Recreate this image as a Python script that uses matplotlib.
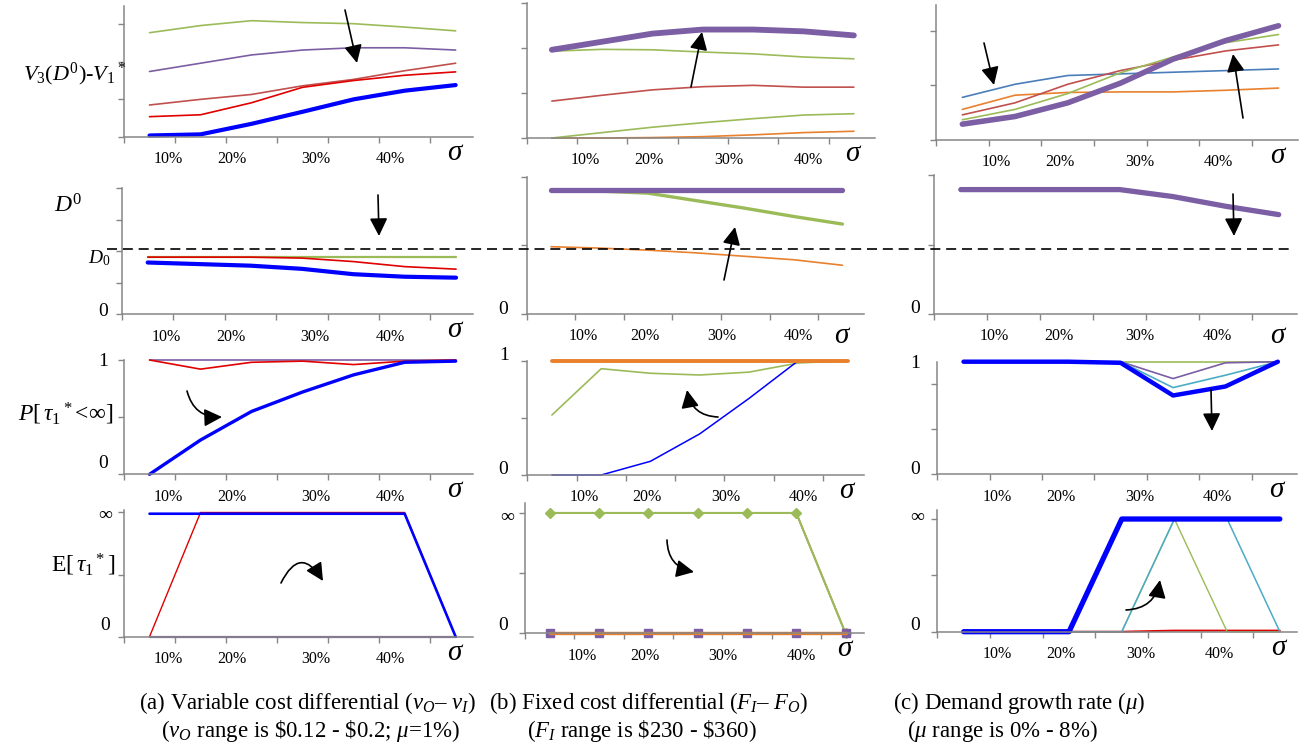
import numpy as np
import matplotlib.pyplot as plt
from matplotlib.lines import Line2D
from matplotlib.patches import FancyArrowPatch

plt.rcParams['font.family'] = 'Liberation Serif'
plt.rcParams['mathtext.fontset'] = 'custom'
plt.rcParams['mathtext.rm'] = 'Liberation Serif'
plt.rcParams['mathtext.it'] = 'Liberation Serif:italic'
plt.rcParams['mathtext.bf'] = 'Liberation Serif:bold'

# sigma categories (7 cases, drawn at category centres)
x = np.arange(7) + 0.5
sigma_labels = ['10%', '20%', '30%', '40%']

# (a) variable cost differential
a_gap_green = [2.77, 2.96, 3.09, 3.04, 3.01, 2.92, 2.82]
a_gap_purple = [1.74, 1.96, 2.18, 2.31, 2.37, 2.37, 2.31]
a_gap_brown = [0.85, 1.0, 1.13, 1.36, 1.53, 1.76, 1.96]
a_gap_red = [0.54, 0.59, 0.91, 1.32, 1.50, 1.64, 1.73]
a_gap_blue = [0.04, 0.07, 0.35, 0.67, 1.0, 1.23, 1.38]
a_d0_green = [1.81, 1.81, 1.81, 1.81, 1.81, 1.81, 1.81]
a_d0_red = [1.81, 1.81, 1.81, 1.78, 1.67, 1.51, 1.43]
a_d0_blue = [1.64, 1.59, 1.54, 1.44, 1.27, 1.19, 1.16]
a_p_purple = [1, 1, 1, 1, 1, 1, 1]
a_p_red = [1.0, 0.92, 0.98, 0.99, 0.96, 0.99, 1.0]
a_p_blue = [0.0, 0.30, 0.55, 0.72, 0.87, 0.98, 0.99]
a_e_purple = [0, 0, 0, 0, 0, 0, 0]
a_e_red = [0, 1, 1, 1, 1, 1, 0]
a_e_blue = [0.99, 0.99, 0.99, 0.99, 0.99, 0.99, 0]

# (b) fixed cost differential
b_gap_purple = [1.96, 2.14, 2.32, 2.41, 2.41, 2.37, 2.28]
b_gap_green = [1.93, 1.97, 1.96, 1.91, 1.87, 1.80, 1.76]
b_gap_brown = [0.82, 0.95, 1.07, 1.14, 1.17, 1.13, 1.13]
b_gap_lgreen = [0, 0.12, 0.24, 0.34, 0.43, 0.51, 0.54]
b_gap_orange = [0, 0, 0.01, 0.03, 0.07, 0.12, 0.15]
b_d0_purple = [1.80, 1.80, 1.80, 1.80, 1.80, 1.80, 1.80]
b_d0_green = [1.80, 1.79, 1.76, 1.65, 1.54, 1.42, 1.31]
b_d0_orange = [0.98, 0.96, 0.93, 0.89, 0.84, 0.79, 0.71]
b_p_orange = [1, 1, 1, 1, 1, 1, 1]
b_p_green = [0.525, 0.93, 0.89, 0.875, 0.90, 0.98, 1.0]
b_p_blue = [0, 0, 0.12, 0.36, 0.67, 1.0, 1.0]
b_e_red = [1, 1, 1, 1, 1, 1, 0]
b_e_green = [1, 1, 1, 1, 1, 1, 0]
b_e_purple = [0, 0, 0, 0, 0, 0, 0]
b_e_orange = [0, 0, 0, 0, 0, 0, 0]

# (c) demand growth rate
c_gap_blue = [0.78, 1.02, 1.18, 1.21, 1.24, 1.27, 1.30]
c_gap_orange = [0.56, 0.82, 0.87, 0.88, 0.88, 0.91, 0.95]
c_gap_brown = [0.46, 0.68, 1.02, 1.27, 1.46, 1.63, 1.74]
c_gap_green = [0.37, 0.56, 0.85, 1.23, 1.52, 1.78, 1.93]
c_gap_purple = [0.29, 0.43, 0.68, 1.04, 1.48, 1.82, 2.09]
c_d0_purple = [1.79, 1.79, 1.79, 1.79, 1.69, 1.55, 1.43]
c_p_green = [1, 1, 1, 1, 1, 1, 1]
c_p_purple = [1, 1, 1, 1.0, 0.85, 0.99, 1.0]
c_p_cyan = [1, 1, 1, 1.0, 0.77, 0.88, 1.0]
c_p_blue = [1.0, 1.0, 1.0, 0.99, 0.70, 0.78, 1.0]
c_e_red = [0, 0, 0, 0, 0.01, 0.01, 0.01]
c_e_cyan = [0, 0, 0, 0, 1, 1, 0]
c_e_green = [0, 0, 0, 0, 1, 0, 0]
c_e_blue = [0, 0, 0, 1, 1, 1, 1]

BLUE = '#0000ff'
GREEN = '#9bbb59'
PURPLE = '#7b5ea3'
BROWN = '#c0504d'
RED = '#e00000'
ORANGE = '#e8802d'
STEEL = '#4a7ebb'
CYAN = '#4bacc6'
AX = '#868686'

W, H = 1304, 752
fig = plt.figure(figsize=(W / 100, H / 100), dpi=100)


def panel(l, r, t, b, xmax, ymax, yticks, labx, sig_off=16):
    ax = fig.add_axes([l / W, 1 - b / H, (r - l) / W, (b - t) / H])
    ax.set_xlim(0, xmax)
    ax.set_ylim(0, ymax)
    ax.set_xticks(range(7))
    ax.set_xticklabels([])
    ax.set_yticks(yticks)
    ax.set_yticklabels([])
    ax.spines['top'].set_visible(False)
    ax.spines['right'].set_visible(False)
    for s in ['left', 'bottom']:
        ax.spines[s].set_color(AX)
        ax.spines[s].set_linewidth(1.1)
    ax.tick_params(colors=AX, length=4, width=1, direction='out')
    ax.patch.set_visible(False)
    tr = ax.get_xaxis_transform()
    for p, s in zip(labx, sigma_labels):
        ax.annotate(s, (p, 0), xycoords=tr, xytext=(0, -16), textcoords='offset points',
                    ha='center', va='center', fontsize=11.5)
    ax.annotate(r'$\sigma$', (6.5, 0), xycoords=tr, xytext=(0, -sig_off * 0.72),
                textcoords='offset points', ha='center', va='center', fontsize=21)
    return ax


def line(ax, y, c, lw=1.2, **kw):
    ax.plot(x, y, color=c, lw=lw, clip_on=False, solid_capstyle='round',
            solid_joinstyle='round', **kw)


def ftext(px, py, s, size=13, **kw):
    fig.text(px / W, 1 - py / H, s, ha='center', va='center', fontsize=size, **kw)


def arrow(x1, y1, x2, y2, rad=0.0):
    fig.add_artist(FancyArrowPatch((x1 / W, 1 - y1 / H), (x2 / W, 1 - y2 / H),
                                   transform=fig.transFigure,
                                   arrowstyle='-|>,head_length=0.6,head_width=0.3',
                                   mutation_scale=18, connectionstyle=f'arc3,rad={rad}',
                                   color='black', lw=1.2, shrinkA=0, shrinkB=0))


pa = [0.86, 2.12, 3.75, 5.22]
pb = [1.16, 2.43, 4.02, 5.6]
pc = [1.14, 2.35, 3.87, 5.35]

# row 1: V3(D0) - V1*
ax = panel(124, 473, 6, 137, 6.84, 3.48, [0, 1, 2, 3], pa)
line(ax, a_gap_green, GREEN)
line(ax, a_gap_purple, PURPLE)
line(ax, a_gap_brown, BROWN)
line(ax, a_gap_red, RED)
line(ax, a_gap_blue, BLUE, lw=3)

ax = panel(526.7, 875, 3, 138, 6.92, 3.0, [0, 1, 2, 3], pb)
line(ax, b_gap_orange, ORANGE)
line(ax, b_gap_lgreen, GREEN)
line(ax, b_gap_brown, BROWN)
line(ax, b_gap_green, GREEN)
line(ax, b_gap_purple, PURPLE, lw=4.2)

ax = panel(936, 1298, 5, 140, 6.87, 2.47, [0, 1, 2], pc)
line(ax, c_gap_blue, STEEL)
line(ax, c_gap_orange, ORANGE)
line(ax, c_gap_brown, BROWN)
line(ax, c_gap_green, GREEN)
line(ax, c_gap_purple, PURPLE, lw=4)

# row 2: D0
ax = panel(122, 473, 188, 314.3, 6.83, 4.0, [0, 1, 2, 3, 4], pa)
line(ax, a_d0_green, GREEN, lw=1.6)
line(ax, a_d0_red, RED)
line(ax, a_d0_blue, BLUE, lw=3)

ax = panel(526.7, 864.3, 176.7, 314, 6.95, 2.0, [0, 1, 2], pb, sig_off=22)
line(ax, b_d0_orange, ORANGE)
line(ax, b_d0_green, GREEN, lw=2.4)
line(ax, b_d0_purple, PURPLE, lw=3.8)

ax = panel(934.3, 1296.7, 175, 314, 6.84, 2.0, [0, 1, 2], pc, sig_off=22)
line(ax, c_d0_purple, PURPLE, lw=3.8)

# row 3: P[tau1* < inf]
ax = panel(124, 473, 360, 474.3, 6.84, 1.0, [0, 0.5, 1], pa)
line(ax, a_p_purple, PURPLE)
line(ax, a_p_red, RED)
line(ax, a_p_blue, BLUE, lw=2.4)

ax = panel(527.3, 864.3, 360.7, 475, 6.84, 1.0, [0, 0.5, 1], pb)
line(ax, b_p_green, GREEN)
line(ax, b_p_blue, BLUE, lw=1.1)
line(ax, b_p_orange, ORANGE, lw=2.8)

ax = panel(937.3, 1296.7, 361.7, 474.3, 6.86, 1.0, [0, 0.4, 0.8], pc)
line(ax, c_p_green, GREEN)
line(ax, c_p_purple, PURPLE)
line(ax, c_p_cyan, CYAN)
line(ax, c_p_blue, BLUE, lw=3.2)

# row 4: E[tau1*]
ax = panel(124, 473, 510, 636.7, 6.84, 1.02, [0, 0.5, 1], pa)
line(ax, a_e_purple, PURPLE, lw=1.6)
line(ax, a_e_red, RED, lw=1.0)
line(ax, a_e_blue, BLUE, lw=1.9)

ax = panel(525, 864.3, 503.3, 633.3, 6.88, 1.08, [0, 0.5, 1], pb)
line(ax, b_e_red, BROWN, lw=1.2)
line(ax, b_e_green, GREEN, lw=1.5, marker='D', ms=5)
line(ax, b_e_purple, PURPLE, lw=1.5, marker='s', ms=6)
line(ax, b_e_orange, ORANGE, lw=2.4)

ax = panel(937.3, 1296.7, 510, 631.7, 6.82, 1.08, [0, 0.5, 1], pc)
line(ax, c_e_red, RED, lw=1.4)
line(ax, c_e_green, GREEN, lw=1.0)
line(ax, c_e_cyan, CYAN, lw=1.1)
line(ax, c_e_blue, BLUE, lw=3.8)

# dashed D_0 reference across the second row
fig.add_artist(Line2D([107 / W, 1290 / W], [1 - 248.5 / H] * 2, transform=fig.transFigure,
                      color='black', lw=1.2, dashes=(6, 3.5)))

# y labels and value marks
ftext(75, 74, r'$V_3(D^0)$-$V_1{}^*$', size=16)
ftext(68, 206, r'$D^0$', size=17)
ftext(99, 258, r'$D_0$', size=14)
ftext(66, 414, r'$P[\,\tau_1{}^*\!<\!\infty]$', size=17)
ftext(83, 565, r'E$[\,\tau_1{}^*]$', size=17)
for px, py, s in [(103, 312, '0'), (503, 310, '0'), (915, 309, '0'),
                  (103, 361, '1'), (103, 464, '0'), (504, 356, '1'), (503, 470, '0'),
                  (915, 364, '1'), (915, 470, '0'),
                  (105, 516, '∞'), (105, 626, '0'), (507, 518, '∞'), (503, 625, '0'),
                  (917, 518, '∞'), (915, 625, '0')]:
    ftext(px, py, s, size=14)

# arrows
arrow(345, 10, 357, 63)
arrow(691, 87, 702, 32)
arrow(984, 43, 994, 85)
arrow(1243, 118, 1233, 54)
arrow(378, 195, 379, 236)
arrow(724, 280, 735, 227)
arrow(1233, 194, 1234, 236)
arrow(1211, 390, 1212, 431)
arrow(187, 391, 222, 417, rad=0.4)
arrow(718, 417, 687, 390, rad=-0.4)
arrow(281, 583, 323, 581, rad=-0.9)
arrow(667, 540, 694, 572, rad=0.4)
arrow(1126, 610, 1160, 580, rad=0.4)

# captions
cap = dict(ha='left', va='center', fontsize=16.5)
fig.text(139 / W, 1 - 703 / H, r'(a) Variable cost differential ($v_O$– $v_I$)', **cap)
fig.text(161 / W, 1 - 731 / H, r'($v_O$ range is \$0.12 - \$0.2; $\mu$=1%)', **cap)
fig.text(489 / W, 1 - 703 / H, r'(b) Fixed cost differential ($F_I$– $F_O$)', **cap)
fig.text(527 / W, 1 - 731 / H, r'($F_I$ range is \$230 - \$360)', **cap)
fig.text(893 / W, 1 - 703 / H, r'(c) Demand growth rate ($\mu$)', **cap)
fig.text(907 / W, 1 - 731 / H, r'($\mu$ range is 0% - 8%)', **cap)

fig.savefig('out.png', dpi=100)
